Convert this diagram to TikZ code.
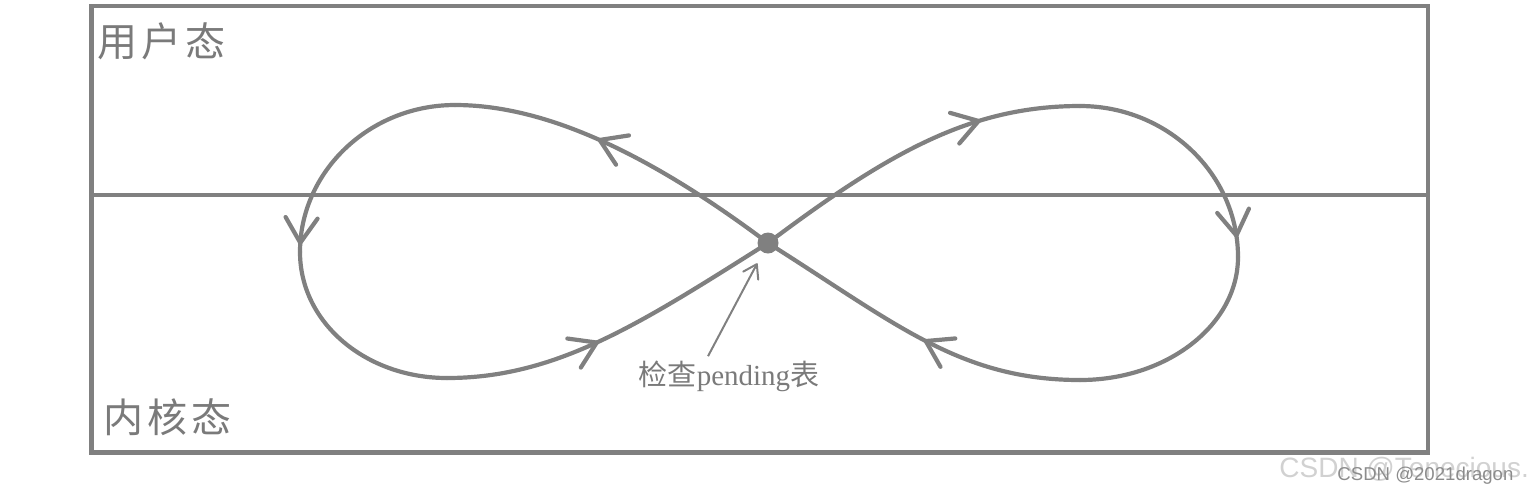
\documentclass[tikz,border=0pt]{standalone}
\usepackage{fontspec}
\newfontfamily\cjk{Noto Sans CJK SC}
\newfontfamily\wmfont{Liberation Sans}
\newfontfamily\lblfont{Liberation Serif}
\usetikzlibrary{arrows.meta,decorations.markings}
\definecolor{lc}{HTML}{808080}
\definecolor{tc}{HTML}{7A7A7A}
\tikzset{
  loopline/.style={draw=lc, line width=2.1pt, line cap=round},
  barb/.style={postaction={decorate}, decoration={markings,
      mark=at position #1 with {\arrow[lc]{Straight Barb[length=12.5pt,width=16pt,round]}}}},
  ptr/.style={draw=lc, line width=1pt, -{Straight Barb[length=6.5pt,width=8.5pt,round]}},
  statelbl/.style={text=tc, inner sep=0pt, anchor=west, font=\cjk\fontsize{20}{20}\selectfont},
  pendlbl/.style={text=tc, inner sep=0pt, font=\lblfont\fontsize{14.5}{14.5}\selectfont},
}
\begin{document}
\begin{tikzpicture}[x=0.5pt,y=-0.5pt]
\useasboundingbox (0,0) rectangle (1530,495);
% frame and divider
\draw[draw=lc, line width=2.25pt] (91.5,6) rectangle (1428,452.5);
\coordinate (hl) at (91.5,195);
\coordinate (hr) at (1428,195);
\draw[draw=lc, line width=2pt] (hl) -- (hr);
% key points
\coordinate (C) at (768,243);
\coordinate (LT) at (455,105);
\coordinate (LL) at (300,252);
\coordinate (LB) at (447,378);
\coordinate (RT) at (1080,106);
\coordinate (RR) at (1238,257);
\coordinate (RB) at (1080,380);
% left loop
\draw[loopline, barb=0.575] (C) .. controls (648,153) and (545,105) .. (LT);
\draw[loopline, barb=0.97] (LT) .. controls (369,105) and (300,172) .. (LL);
\draw[loopline] (LL) .. controls (300,323) and (366,378) .. (LB);
\draw[loopline, barb=0.445] (LB) .. controls (557,378) and (641,323) .. (C);
% right loop
\draw[loopline, barb=0.71] (C) .. controls (888,153) and (970,106) .. (RT);
\draw[loopline, barb=0.92] (RT) .. controls (1167,106) and (1238,174) .. (RR);
\draw[loopline] (RR) .. controls (1238,325) and (1167,380) .. (RB);
\draw[loopline, barb=0.47] (RB) .. controls (960,380) and (895,323) .. (C);
% centre dot
\node[circle, fill=lc, minimum size=10.5pt, inner sep=0pt] (dot) at (C) {};
% labels
\node[statelbl] (user) at (97,41) {用\hspace{2pt}户\hspace{2pt}态};
\node[statelbl] (kern) at (103,417) {内\hspace{2pt}核\hspace{2pt}态};
\node[pendlbl] (pl) at (729,376) {{\cjk 检查}pending{\cjk 表}};
\draw[ptr, shorten >=6pt] ([xshift=-10.5pt,yshift=2pt]pl.north) -- (dot);
% watermark
\node[anchor=west, inner sep=0pt, text=black!18, font=\wmfont\fontsize{14}{14}\selectfont] (wm1) at (1279,469) {CSDN @Tenecious.};
\node[anchor=west, inner sep=0pt, text=black!45, font=\wmfont\fontsize{9.3}{9.3}\selectfont] (wm2) at (1337,476) {CSDN @2021dragon};
\end{tikzpicture}
\end{document}
